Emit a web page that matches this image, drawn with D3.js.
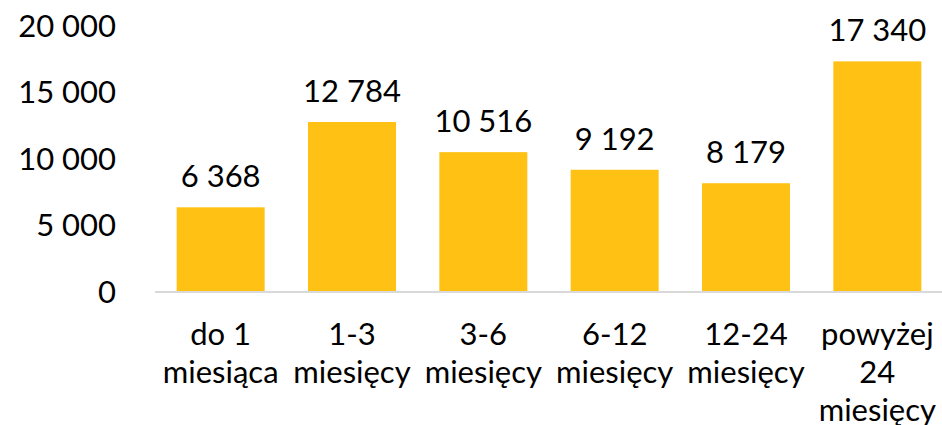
<!doctype html>
<html>
<head>
    <meta charset="utf-8">
    <title>Bar chart</title>
    <style>
        body { margin: 0; padding: 0; background: #fff; }
        svg text { font-family: Lato, "Noto Sans", sans-serif; fill: #000; }
    </style>
</head>
<body>
    <svg id="chart" width="942" height="425"></svg>

    <script src="https://d3js.org/d3.v7.min.js"></script>
    <script>
        var categories = [
            ["do 1", "miesiąca"],
            ["1-3", "miesięcy"],
            ["3-6", "miesięcy"],
            ["6-12", "miesięcy"],
            ["12-24", "miesięcy"],
            ["powyżej", "24", "miesięcy"]
        ];
        var values = [6368, 12784, 10516, 9192, 8179, 17340];
        var yTicks = [0, 5000, 10000, 15000, 20000];

        var fontSize = 31;
        var plot = {left: 155, right: 943, top: 26, bottom: 292};

        var svg = d3.select("#chart");

        var keys = categories.map(function(d, i) { return i; });

        var x = d3.scaleBand()
            .domain(keys)
            .range([plot.left, plot.right])
            .paddingInner(0.33)
            .paddingOuter(0.165);

        var y = d3.scaleLinear()
            .domain([0, 20000])
            .range([plot.bottom, plot.top]);

        // thousands separated by a space
        function fmt(v) {
            return d3.format(",")(v).replace(/,/g, " ");
        }

        svg.selectAll(".bar")
            .data(values)
            .enter().append("rect")
            .attr("class", "bar")
            .attr("x", function(d, i) { return x(i); })
            .attr("width", x.bandwidth())
            .attr("y", function(d) { return y(d); })
            .attr("height", function(d) { return y(0) - y(d); })
            .style("fill", "#FFC214");

        // baseline
        svg.append("line")
            .attr("x1", plot.left)
            .attr("x2", plot.right)
            .attr("y1", y(0))
            .attr("y2", y(0))
            .style("stroke", "#D9D9D9")
            .style("stroke-width", 2);

        // y axis labels
        svg.selectAll(".ytick")
            .data(yTicks)
            .enter().append("text")
            .attr("class", "ytick")
            .attr("x", 116)
            .attr("y", function(d) { return y(d); })
            .attr("dy", "0.35em")
            .attr("text-anchor", "end")
            .style("font-size", fontSize + "px")
            .text(fmt);

        // value labels
        svg.selectAll(".val")
            .data(values)
            .enter().append("text")
            .attr("class", "val")
            .attr("x", function(d, i) { return x(i) + x.bandwidth() / 2; })
            .attr("y", function(d) { return y(d) - 20; })
            .attr("text-anchor", "middle")
            .style("font-size", fontSize + "px")
            .text(fmt);

        // category labels
        var cat = svg.selectAll(".cat")
            .data(categories)
            .enter().append("text")
            .attr("class", "cat")
            .attr("x", function(d, i) { return x(i) + x.bandwidth() / 2; })
            .attr("y", 345)
            .attr("text-anchor", "middle")
            .style("font-size", fontSize + "px");

        cat.selectAll("tspan")
            .data(function(d, i) { return d.map(function(s) { return {s: s, i: i}; }); })
            .enter().append("tspan")
            .attr("x", function(d) { return x(d.i) + x.bandwidth() / 2; })
            .attr("dy", function(d, j) { return j === 0 ? 0 : 38; })
            .text(function(d) { return d.s; });
    </script>
</body>
</html>
